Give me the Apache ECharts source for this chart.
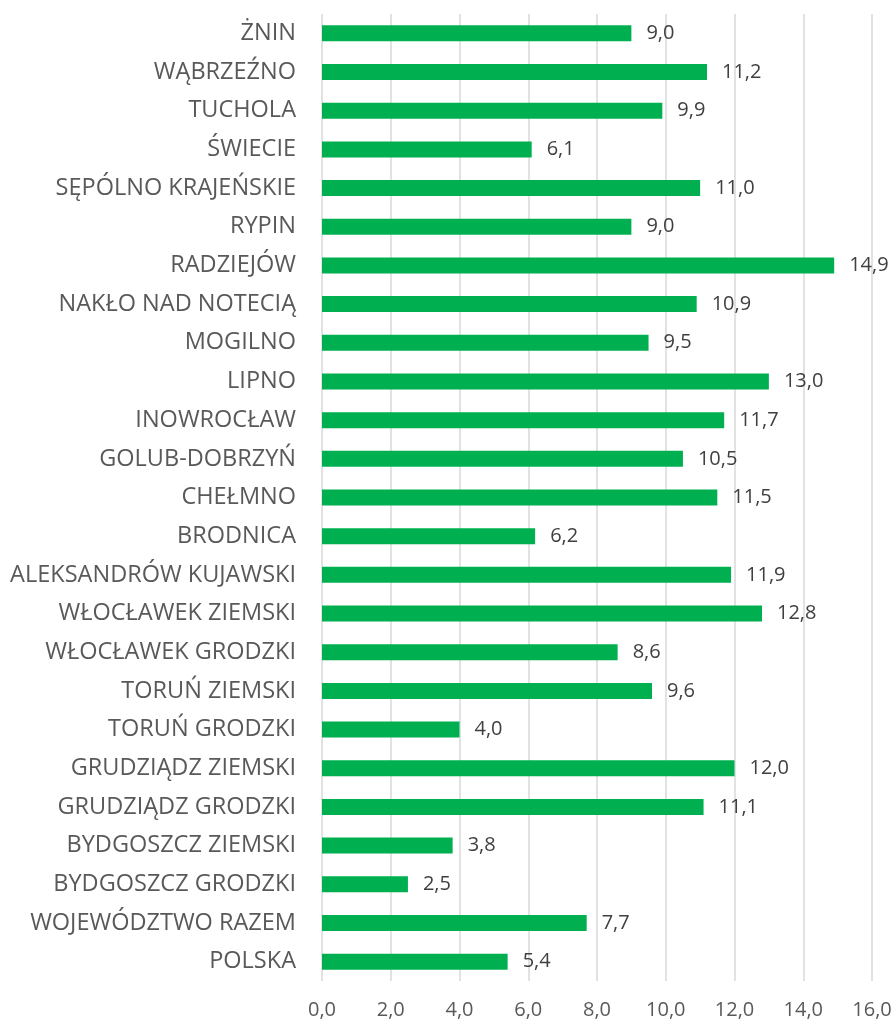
<!DOCTYPE html>
<html>
<head>
<meta charset="utf-8">
<script src="https://cdn.jsdelivr.net/npm/echarts@6/dist/echarts.min.js"></script>
<style>
  html, body { margin: 0; padding: 0; background: #fff; }
  #main { width: 895px; height: 1023px; }
</style>
</head>
<body>
<div id="main"></div>
<script>
// categories top -> bottom
var powiaty = ['ŻNIN', 'WĄBRZEŹNO', 'TUCHOLA', 'ŚWIECIE', 'SĘPÓLNO KRAJEŃSKIE', 'RYPIN',
  'RADZIEJÓW', 'NAKŁO NAD NOTECIĄ', 'MOGILNO', 'LIPNO', 'INOWROCŁAW', 'GOLUB-DOBRZYŃ',
  'CHEŁMNO', 'BRODNICA', 'ALEKSANDRÓW KUJAWSKI', 'WŁOCŁAWEK ZIEMSKI', 'WŁOCŁAWEK GRODZKI',
  'TORUŃ ZIEMSKI', 'TORUŃ GRODZKI', 'GRUDZIĄDZ ZIEMSKI', 'GRUDZIĄDZ GRODZKI',
  'BYDGOSZCZ ZIEMSKI', 'BYDGOSZCZ GRODZKI', 'WOJEWÓDZTWO RAZEM', 'POLSKA'];
var wartosci = [9.0, 11.2, 9.9, 6.1, 11.0, 9.0, 14.9, 10.9, 9.5, 13.0, 11.7, 10.5,
  11.5, 6.2, 11.9, 12.8, 8.6, 9.6, 4.0, 12.0, 11.1, 3.8, 2.5, 7.7, 5.4];
var xMin = 0, xMax = 16, xStep = 2;

var fmt = function (v) { return Number(v).toFixed(1).replace('.', ','); };

var myChart = echarts.init(document.getElementById('main'));
var option = {
  animation: false,
  textStyle: { fontFamily: 'Open Sans' },
  grid: { left: 322, right: 23, top: 14, bottom: 42, containLabel: false },
  xAxis: {
    type: 'value',
    min: xMin,
    max: xMax,
    interval: xStep,
    axisLine: { show: false },
    axisTick: { show: false },
    axisLabel: {
      formatter: fmt,
      color: '#595959',
      fontSize: 20,
      margin: 19
    },
    splitLine: { lineStyle: { color: '#d9d9d9', width: 1.5 } }
  },
  yAxis: {
    type: 'category',
    inverse: true,
    data: powiaty,
    axisLine: { show: false },
    axisTick: { show: false },
    axisLabel: { color: '#595959', fontSize: 23.5, margin: 26 }
  },
  series: [
    {
      type: 'bar',
      data: wartosci,
      barWidth: 16,
      itemStyle: { color: '#00B050' },
      label: {
        show: true,
        position: 'right',
        distance: 15,
        formatter: function (p) { return fmt(p.value); },
        color: '#404040',
        fontSize: 20
      }
    }
  ]
};
myChart.setOption(option);
</script>
</body>
</html>
